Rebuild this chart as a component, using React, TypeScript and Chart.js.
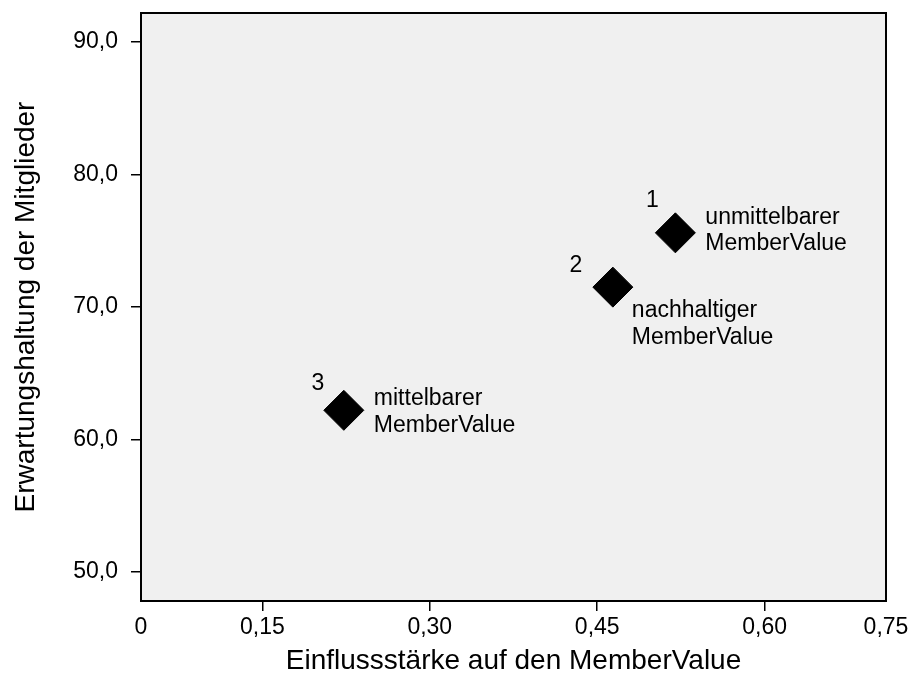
import React, { useEffect, useRef } from "react";
import { Chart, registerables } from "chart.js";

Chart.register(...registerables);

// ---- data ----
const POINT_IDS = ["1", "2", "3"];
const POINT_NAMES = [
  ["unmittelbarer", "MemberValue"],
  ["nachhaltiger", "MemberValue"],
  ["mittelbarer", "MemberValue"],
];
const X_VALUES = [0.52, 0.464, 0.223];
const Y_VALUES = [75.6, 71.5, 62.2];

const X_MIN = 0.0413;
const X_MAX = 0.7087;
const X_INNER_TICKS = [0.15, 0.3, 0.45, 0.6];
const X_TICK_LABELS = ["0", "0,15", "0,30", "0,45", "0,60", "0,75"];

const Y_MIN = 47.8;
const Y_MAX = 92.2;
const Y_TICKS = [50, 60, 70, 80, 90];

const X_TITLE = "Einflussstärke auf den MemberValue";
const Y_TITLE = "Erwartungshaltung der Mitglieder";

// ---- layout / style (not data) ----
const FONT = "'Liberation Sans', Arial, sans-serif";
const LABEL_LAYOUT = [
  { num: [-23, -32], name: [30, -9] },
  { num: [-37, -21], name: [19, 30] },
  { num: [-26, -27], name: [30, -5] },
];
const LINE_GAP = 26.5;

const plotPlugin = {
  id: "plotFrame",
  beforeDraw(chart: any) {
    const { ctx, chartArea: a } = chart;
    ctx.save();
    ctx.fillStyle = "#f0f0f0";
    ctx.fillRect(a.left, a.top, a.right - a.left, a.bottom - a.top);
    ctx.restore();
  },
  beforeDatasetsDraw(chart: any) {
    const { ctx, chartArea: a } = chart;
    ctx.save();
    ctx.strokeStyle = "#000";
    ctx.lineWidth = 2;
    ctx.strokeRect(a.left, a.top, a.right - a.left, a.bottom - a.top);
    ctx.restore();
  },
  afterDatasetsDraw(chart: any) {
    const { ctx } = chart;
    const meta = chart.getDatasetMeta(0);
    ctx.save();
    ctx.fillStyle = "#000";
    ctx.font = `23px ${FONT}`;
    meta.data.forEach((pt: any, i: number) => {
      const lay = LABEL_LAYOUT[i];
      ctx.textAlign = "center";
      ctx.textBaseline = "middle";
      ctx.fillText(POINT_IDS[i], pt.x + lay.num[0], pt.y + lay.num[1]);
      ctx.textAlign = "left";
      ctx.textBaseline = "alphabetic";
      POINT_NAMES[i].forEach((line, j) => {
        ctx.fillText(line, pt.x + lay.name[0], pt.y + lay.name[1] + j * LINE_GAP);
      });
    });
    ctx.restore();
  },
};

export default function App() {
  const ref = useRef<HTMLCanvasElement>(null);

  useEffect(() => {
    if (!ref.current) return;
    const xTickVals = [X_MIN, ...X_INNER_TICKS, X_MAX];
    const chart = new Chart(ref.current, {
      type: "scatter",
      data: {
        datasets: [
          {
            data: X_VALUES.map((x, i) => ({ x, y: Y_VALUES[i] })),
            pointStyle: "rectRot",
            pointRadius: 20,
            pointHoverRadius: 20,
            backgroundColor: "#000",
            borderColor: "#000",
            borderWidth: 1,
          },
        ],
      },
      options: {
        animation: false,
        responsive: false,
        devicePixelRatio: 1,
        layout: { autoPadding: false, padding: { left: 0, top: 13, right: 24, bottom: 0 } },
        plugins: { legend: { display: false }, tooltip: { enabled: false } },
        scales: {
          x: {
            type: "linear",
            min: X_MIN,
            max: X_MAX,
            afterBuildTicks: (s: any) => {
              s.ticks = xTickVals.map((value) => ({ value }));
            },
            afterFit: (s: any) => {
              s.height = 89;
              s.paddingLeft = 0;
              s.paddingRight = 0;
            },
            border: { display: false },
            grid: {
              drawOnChartArea: false,
              drawTicks: true,
              tickLength: 10,
              lineWidth: 1.5,
              color: (c: any) =>
                c.index === 0 || c.index === xTickVals.length - 1 ? "rgba(0,0,0,0)" : "#000",
            },
            ticks: {
              autoSkip: false,
              maxRotation: 0,
              padding: 3,
              color: "#000",
              font: { family: FONT, size: 23 },
              callback: (_v: any, idx: number) => X_TICK_LABELS[idx],
            },
            title: {
              display: true,
              text: X_TITLE,
              color: "#000",
              font: { family: FONT, size: 28 },
              padding: { top: 0, bottom: 12 },
            },
          },
          y: {
            type: "linear",
            min: Y_MIN,
            max: Y_MAX,
            afterBuildTicks: (s: any) => {
              s.ticks = Y_TICKS.map((value) => ({ value }));
            },
            afterFit: (s: any) => {
              s.width = 141;
              s.paddingTop = 0;
              s.paddingBottom = 0;
            },
            border: { display: false },
            grid: {
              drawOnChartArea: false,
              drawTicks: true,
              tickLength: 10,
              lineWidth: 1.5,
              color: "#000",
            },
            ticks: {
              padding: 13,
              color: "#000",
              font: { family: FONT, size: 23 },
              callback: (v: any) => Number(v).toFixed(1).replace(".", ","),
            },
            title: {
              display: true,
              text: Y_TITLE,
              color: "#000",
              font: { family: FONT, size: 28 },
              padding: { top: 9, bottom: 0 },
            },
          },
        },
      },
      plugins: [plotPlugin],
    });
    return () => chart.destroy();
  }, []);

  return (
    <div style={{ position: "absolute", left: 0, top: 0, width: 910, height: 690, background: "#fff" }}>
      <canvas ref={ref} width={910} height={690} style={{ width: 910, height: 690 }} />
    </div>
  );
}
